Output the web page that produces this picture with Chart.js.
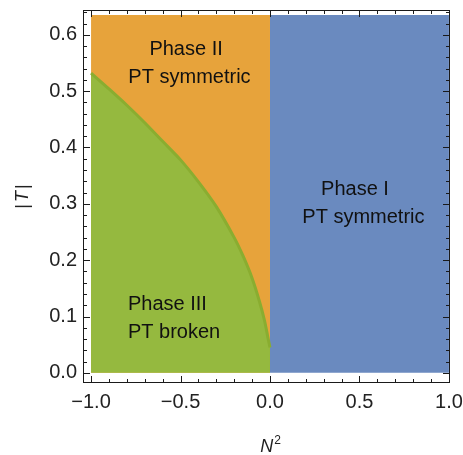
<!DOCTYPE html>
<html>
<head>
<meta charset="utf-8">
<script src="https://cdn.jsdelivr.net/npm/chart.js@4.4.1/dist/chart.umd.min.js"></script>
<style>
  html, body { margin: 0; padding: 0; background: #fff; }
  canvas { display: block; }
</style>
</head>
<body>
<canvas id="phaseChart" width="463" height="455"></canvas>
<script>
// Phase diagram values
const boundaryN2 = [-1.0, -0.9, -0.8, -0.7, -0.6, -0.5, -0.4, -0.3, -0.2, -0.15, -0.1, -0.06, -0.03, -0.01, 0.0];
const boundaryT = [0.532, 0.504, 0.475, 0.444, 0.411, 0.378, 0.339, 0.295, 0.24, 0.207, 0.168, 0.128, 0.092, 0.06, 0.045];
const orangeN2 = [-1.0, 0.0];
const blueN2 = [0.0, 1.0];
const regionTop = 0.635;
const xTicks = [-1.0, -0.5, 0.0, 0.5, 1.0];
const yTicks = [0.0, 0.1, 0.2, 0.3, 0.4, 0.5, 0.6];

// text annotations (data coordinates)
const phaseLabels = [
  { text: "Phase II", x: -0.469, y: 0.564 },
  { text: "PT symmetric", x: -0.45, y: 0.514 },
  { text: "Phase I", x: 0.475, y: 0.316 },
  { text: "PT symmetric", x: 0.522, y: 0.266 },
  { text: "Phase III", x: -0.573, y: 0.112 },
  { text: "PT broken", x: -0.536, y: 0.062 },
];

const FONT = "'Liberation Sans', Arial, sans-serif";
const fmt = (v) => (v < 0 ? "\u2212" : "") + Math.abs(v).toFixed(1);

const framePlugin = {
  id: "frame",
  afterDraw(chart) {
    const { ctx, chartArea: a, scales } = chart;
    const xs = scales.x, ys = scales.y;
    ctx.save();
    ctx.strokeStyle = "#1a1a1a";
    ctx.lineWidth = 1;
    ctx.strokeRect(a.left + 0.5, a.top + 0.5, a.right - a.left - 1, a.bottom - a.top - 1);

    ctx.beginPath();
    // x ticks, bottom and top
    for (let i = -10; i <= 10; i++) {
      const v = i / 10;
      const len = i % 5 === 0 ? 7 : 4;
      const px = Math.round(xs.getPixelForValue(v)) + 0.5;
      ctx.moveTo(px, a.bottom); ctx.lineTo(px, a.bottom - len);
      ctx.moveTo(px, a.top); ctx.lineTo(px, a.top + len);
    }
    // y ticks, left and right
    for (let i = 0; i <= 32; i++) {
      const v = i * 0.02;
      const len = i % 5 === 0 ? 7 : 4;
      const py = Math.round(ys.getPixelForValue(v)) + 0.5;
      ctx.moveTo(a.left, py); ctx.lineTo(a.left + len, py);
      ctx.moveTo(a.right, py); ctx.lineTo(a.right - len, py);
    }
    ctx.stroke();

    // phase labels
    ctx.fillStyle = "#111";
    ctx.font = "20px " + FONT;
    ctx.textAlign = "center";
    ctx.textBaseline = "alphabetic";
    phaseLabels.forEach((l) => {
      ctx.fillText(l.text, xs.getPixelForValue(l.x), ys.getPixelForValue(l.y));
    });

    // y axis title |T|
    ctx.save();
    ctx.translate(28, (a.top + a.bottom) / 2);
    ctx.rotate(-Math.PI / 2);
    ctx.fillStyle = "#222";
    ctx.textAlign = "left";
    const up = "18px " + FONT, it = "italic 18px " + FONT;
    ctx.font = up; const wBar = ctx.measureText("|").width;
    ctx.font = it; const wT = ctx.measureText("T").width;
    let x0 = -(2 * wBar + wT + 4) / 2;
    ctx.font = up; ctx.fillText("|", x0, 0);
    ctx.font = it; ctx.fillText("T", x0 + wBar + 2, 0);
    ctx.font = up; ctx.fillText("|", x0 + wBar + wT + 4, 0);
    ctx.restore();

    // x axis title N^2
    ctx.fillStyle = "#222";
    ctx.textAlign = "left";
    ctx.font = it; const wN = ctx.measureText("N").width;
    ctx.font = "12px " + FONT; const w2 = ctx.measureText("2").width;
    const cx = xs.getPixelForValue(0) - (wN + w2) / 2;
    ctx.font = it; ctx.fillText("N", cx, 452);
    ctx.font = "12px " + FONT; ctx.fillText("2", cx + wN + 1, 444);
    ctx.restore();
  },
};

const ctx = document.getElementById("phaseChart");
new Chart(ctx, {
  type: "line",
  data: {
    datasets: [
      {
        label: "Phase III",
        data: boundaryN2.map((n, i) => ({ x: n, y: boundaryT[i] })),
        borderColor: "#8aad30",
        borderWidth: 3,
        backgroundColor: "#95b93f",
        fill: "origin",
        pointRadius: 0,
        tension: 0.3,
        order: 0,
      },
      {
        label: "Phase II",
        data: orangeN2.map((n) => ({ x: n, y: regionTop })),
        borderWidth: 0,
        borderColor: "rgba(0,0,0,0)",
        backgroundColor: "#e7a33b",
        fill: "origin",
        pointRadius: 0,
        order: 1,
      },
      {
        label: "Phase I",
        data: blueN2.map((n) => ({ x: n, y: regionTop })),
        borderWidth: 0,
        borderColor: "rgba(0,0,0,0)",
        backgroundColor: "#6a8abf",
        fill: "origin",
        pointRadius: 0,
        order: 2,
      },
    ],
  },
  plugins: [framePlugin],
  options: {
    responsive: false,
    animation: false,
    layout: { padding: { top: 10, right: 13 } },
    plugins: { legend: { display: false }, tooltip: { enabled: false } },
    scales: {
      x: {
        type: "linear",
        min: -1.045,
        max: 1.006,
        grid: { display: false, drawTicks: false },
        border: { display: false },
        afterBuildTicks: (s) => { s.ticks = xTicks.map((v) => ({ value: v })); },
        afterFit: (s) => { s.height = 72; s.paddingLeft = 0; s.paddingRight = 0; },
        ticks: {
          padding: 7,
          color: "#222",
          font: { family: FONT, size: 20 },
          callback: (v) => fmt(v),
          maxRotation: 0,
        },
      },
      y: {
        type: "linear",
        min: -0.018,
        max: 0.644,
        grid: { display: false, drawTicks: false },
        border: { display: false },
        afterBuildTicks: (s) => { s.ticks = yTicks.map((v) => ({ value: v })); },
        afterFit: (s) => { s.width = 83; s.paddingTop = 0; s.paddingBottom = 0; },
        ticks: {
          padding: 6,
          color: "#222",
          font: { family: FONT, size: 20 },
          callback: (v) => fmt(v),
        },
      },
    },
  },
});
</script>
</body>
</html>
